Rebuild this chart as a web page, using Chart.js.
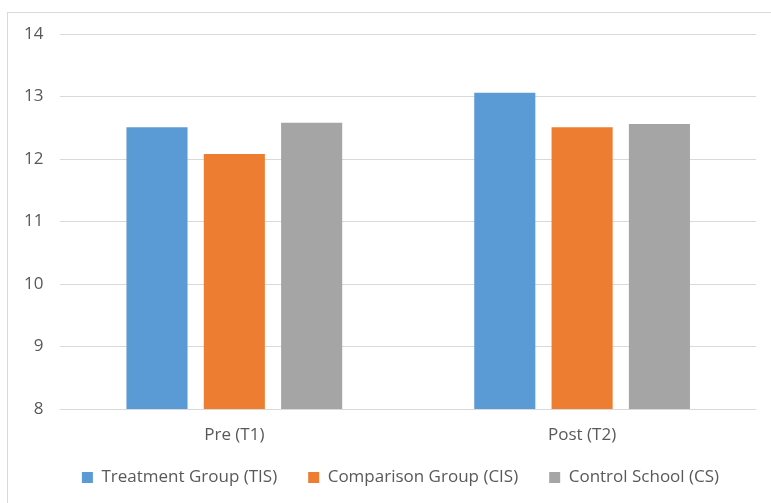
<!DOCTYPE html>
<html>
<head>
<meta charset="utf-8">
<script src="https://cdn.jsdelivr.net/npm/chart.js@4/dist/chart.umd.min.js"></script>
<style>
  html, body { margin: 0; padding: 0; background: #fff; }
  #wrap { position: relative; width: 771px; height: 503px; overflow: hidden; }
  #frame { position: absolute; left: 7px; top: 12px; width: 800px; height: 600px; border: 1px solid #d9d9d9; box-sizing: border-box; }
  #chart { position: absolute; left: 0; top: 0; }
</style>
</head>
<body>
<div id="wrap">
  <div id="frame"></div>
  <canvas id="chart" width="771" height="503"></canvas>
</div>
<script>
const categories = ['Pre (T1)', 'Post (T2)'];
const seriesNames = ['Treatment Group (TIS)', 'Comparison Group (CIS)', 'Control School (CS)'];
const treatmentValues = [12.51, 13.06];
const comparisonValues = [12.08, 12.51];
const controlValues = [12.58, 12.56];
const seriesColors = ['#5b9bd5', '#ed7d31', '#a5a5a5'];
const yMin = 8;
const yMax = 14;

const textColor = '#595959';
const fontFamily = '"Open Sans", "Noto Sans", sans-serif';
const fontSize = 17;

// legend padding is the gap between items; keep the row short and nudge it
const legendSpace = 29;
const legendRowH = 20.4;
const legendShiftX = 19;

const legendRowFix = {
  id: 'legendRowFix',
  afterInit(chart) {
    const legend = chart.legend;
    const origFit = legend.fit;
    legend.fit = function () {
      origFit.call(this);
      this.height = legendSpace;
    };
  },
  afterLayout(chart) {
    const legend = chart.legend;
    const pad = legend.options.labels.padding;
    legend.top = legend.bottom - legendRowH - pad;
    legend.left += legendShiftX;
    legend.right += legendShiftX;
  }
};

const canvas = document.getElementById('chart');
const ctx = canvas.getContext('2d');

const chart = new Chart(ctx, {
  type: 'bar',
  data: {
    labels: categories,
    datasets: [
      { label: seriesNames[0], data: treatmentValues, backgroundColor: seriesColors[0] },
      { label: seriesNames[1], data: comparisonValues, backgroundColor: seriesColors[1] },
      { label: seriesNames[2], data: controlValues, backgroundColor: seriesColors[2] }
    ]
  },
  options: {
    responsive: false,
    animation: false,
    datasets: {
      bar: { categoryPercentage: 0.667, barPercentage: 0.79 }
    },
    layout: {
      padding: { left: 7, right: 15, top: 34, bottom: 13.6 }
    },
    plugins: {
      tooltip: { enabled: false },
      legend: {
        position: 'bottom',
        labels: {
          boxWidth: 11,
          boxHeight: 11,
          padding: 31,
          color: textColor,
          font: { family: fontFamily, size: fontSize }
        }
      }
    },
    scales: {
      x: {
        grid: { display: false, drawTicks: false },
        border: { display: false },
        ticks: {
          color: textColor,
          padding: 15.5,
          font: { family: fontFamily, size: fontSize }
        }
      },
      y: {
        min: yMin,
        max: yMax,
        border: { display: false },
        grid: { color: '#d9d9d9', lineWidth: 1, drawTicks: false },
        ticks: {
          stepSize: 1,
          padding: 17,
          color: textColor,
          font: { family: fontFamily, size: fontSize }
        }
      }
    }
  },
  plugins: [legendRowFix]
});
</script>
</body>
</html>
